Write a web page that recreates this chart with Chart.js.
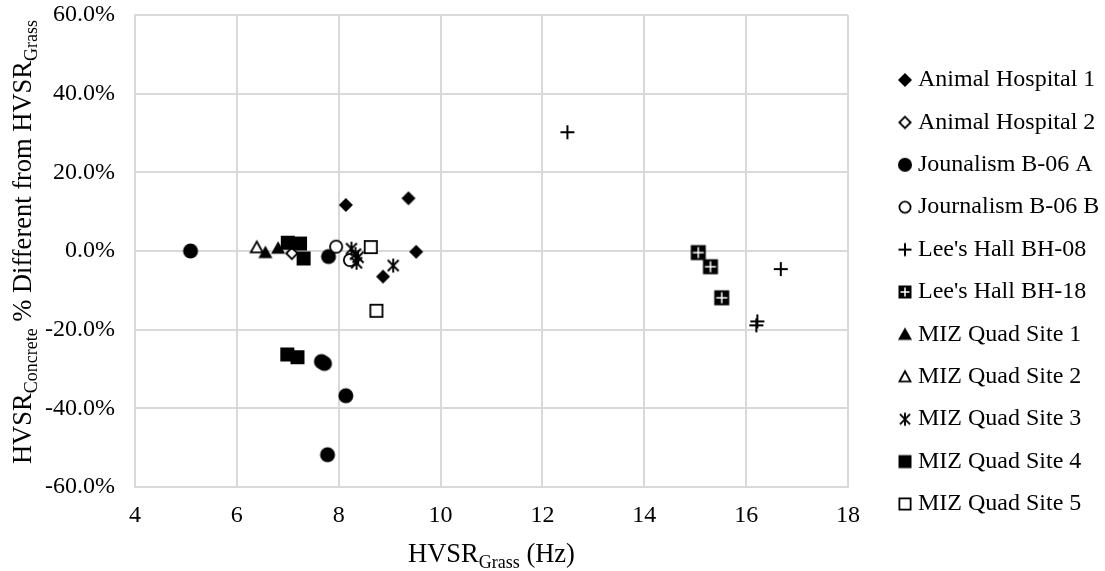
<!DOCTYPE html>
<html>
<head>
<meta charset="utf-8">
<script src="https://cdn.jsdelivr.net/npm/chart.js@4.4.1/dist/chart.umd.min.js"></script>
<style>
  html, body { margin: 0; padding: 0; background: #ffffff; }
  #wrap { width: 1105px; height: 571px; }
</style>
</head>
<body>
<div id="wrap"><canvas id="chart" width="1105" height="571"></canvas></div>
<script>
// ---- data: [HVSR_Grass (Hz), % difference] ----
const seriesNames = [
  'Animal Hospital 1', 'Animal Hospital 2', 'Jounalism B-06 A', 'Journalism B-06 B',
  "Lee's Hall BH-08", "Lee's Hall BH-18", 'MIZ Quad Site 1', 'MIZ Quad Site 2',
  'MIZ Quad Site 3', 'MIZ Quad Site 4', 'MIZ Quad Site 5'
];
const animalHospital1 = [[8.14, 11.7], [9.37, 13.4], [8.87, -6.5], [9.52, -0.2]];
const animalHospital2 = [[7.08, -0.6]];
const journalismA = [[5.09, 0.0], [7.80, -1.4], [7.66, -28.1], [7.72, -28.6], [8.14, -36.8], [7.78, -51.8]];
const journalismB = [[7.95, 1.1], [8.22, -2.3]];
const leesHallBH08 = [[12.49, 30.2], [16.68, -4.6], [16.22, -17.9], [16.20, -18.9]];
const leesHallBH18 = [[15.06, -0.4], [15.30, -4.0], [15.52, -11.9]];
const mizQuad1 = [[6.56, -0.4], [6.81, 0.7]];
const mizQuad2 = [[6.39, 0.9]];
const mizQuad3 = [[8.25, 0.6], [8.33, -0.8], [8.38, -1.6], [8.35, -3.0], [9.07, -3.7]];
const mizQuad4 = [[7.00, 2.1], [7.24, 1.9], [7.31, -1.9], [6.99, -26.3], [7.19, -27.0]];
const mizQuad5 = [[8.63, 1.0], [8.74, -15.2]];

const xTicks = [4, 6, 8, 10, 12, 14, 16, 18];
const yTicks = [-60, -40, -20, 0, 20, 40, 60];

const seriesData = [animalHospital1, animalHospital2, journalismA, journalismB, leesHallBH08,
  leesHallBH18, mizQuad1, mizQuad2, mizQuad3, mizQuad4, mizQuad5];
const markerKinds = ['diamond', 'diamondOpen', 'circle', 'circleOpen', 'plus', 'squarePlus',
  'triangle', 'triangleOpen', 'asterisk', 'square', 'squareOpen'];
const plotSizes = { diamond: 14, diamondOpen: 13, circle: 15, circleOpen: 14, plus: 14, squarePlus: 15,
  triangle: 14, triangleOpen: 14, asterisk: 14, square: 14, squareOpen: 14 };
const legendSizes = { diamond: 14, diamondOpen: 13, circle: 14, circleOpen: 13, plus: 13, squarePlus: 13,
  triangle: 14, triangleOpen: 13, asterisk: 13, square: 13, squareOpen: 13 };

const SERIF = "'Liberation Serif', 'Times New Roman', serif";
const INK = '#000000';
const GRID = '#d9d9d9';

// ---- marker glyphs drawn on small canvases ----
function markerCanvas(kind, s) {
  const pad = 3;
  let n = Math.ceil(s + 2 * pad);
  if (n % 2) n += 1;
  const cv = document.createElement('canvas');
  cv.width = n; cv.height = n;
  const g = cv.getContext('2d');
  const c = n / 2, h = s / 2;
  g.strokeStyle = INK; g.fillStyle = INK; g.lineWidth = 1.8;
  g.lineJoin = 'miter';
  const poly = (pts) => { g.beginPath(); pts.forEach((p, i) => i ? g.lineTo(p[0], p[1]) : g.moveTo(p[0], p[1])); g.closePath(); };
  switch (kind) {
    case 'diamond':
      poly([[c, c - h], [c + h, c], [c, c + h], [c - h, c]]); g.fill(); break;
    case 'diamondOpen':
      poly([[c, c - h + 0.8], [c + h - 0.8, c], [c, c + h - 0.8], [c - h + 0.8, c]]);
      g.fillStyle = '#fff'; g.fill(); g.stroke(); break;
    case 'circle':
      g.beginPath(); g.arc(c, c, h, 0, Math.PI * 2); g.fill(); break;
    case 'circleOpen':
      g.beginPath(); g.arc(c, c, h - 0.9, 0, Math.PI * 2); g.fillStyle = '#fff'; g.fill(); g.stroke(); break;
    case 'plus':
      g.lineWidth = 2; g.beginPath();
      g.moveTo(c - h, c); g.lineTo(c + h, c); g.moveTo(c, c - h); g.lineTo(c, c + h); g.stroke(); break;
    case 'squarePlus':
      g.fillRect(c - h, c - h, s, s);
      g.strokeStyle = '#fff'; g.lineWidth = 1.5; g.beginPath();
      g.moveTo(c - h + 2, c); g.lineTo(c + h - 2, c); g.moveTo(c, c - h + 2); g.lineTo(c, c + h - 2); g.stroke(); break;
    case 'triangle':
      poly([[c, c - h], [c + h, c + h * 0.78], [c - h, c + h * 0.78]]); g.fill(); break;
    case 'triangleOpen':
      poly([[c, c - h + 1], [c + h - 1, c + h * 0.78 - 0.5], [c - h + 1, c + h * 0.78 - 0.5]]);
      g.fillStyle = '#fff'; g.fill(); g.stroke(); break;
    case 'asterisk': {
      const d = h * 0.78;
      g.lineWidth = 1.9; g.beginPath();
      g.moveTo(c - d, c - d); g.lineTo(c + d, c + d);
      g.moveTo(c + d, c - d); g.lineTo(c - d, c + d);
      g.moveTo(c, c - h); g.lineTo(c, c + h); g.stroke(); break;
    }
    case 'square':
      g.fillRect(c - h, c - h, s, s); break;
    case 'squareOpen':
      g.fillStyle = '#fff'; g.fillRect(c - h + 0.9, c - h + 0.9, s - 1.8, s - 1.8);
      g.strokeRect(c - h + 0.9, c - h + 0.9, s - 1.8, s - 1.8); break;
  }
  return cv;
}

const plotIcons = markerKinds.map(k => markerCanvas(k, plotSizes[k]));
const legendIcons = markerKinds.map(k => markerCanvas(k, legendSizes[k]));

const datasets = seriesNames.map((name, i) => ({
  label: name,
  data: seriesData[i].map(p => ({ x: p[0], y: p[1] })),
  pointStyle: plotIcons[i],
  pointRadius: 7,
  pointHoverRadius: 7,
  borderColor: INK,
  backgroundColor: INK,
  showLine: false,
  order: seriesNames.length - i   // later series sit on top
}));

// ---- axis titles with subscripts ----
const TITLE_SIZE = 26.5, SUB_SIZE = 18, SUB_DROP = 6;
function richWidth(g, parts) {
  let w = 0;
  parts.forEach(p => { g.font = (p.sub ? SUB_SIZE : TITLE_SIZE) + 'px ' + SERIF; w += g.measureText(p.t).width; });
  return w;
}
function drawRich(g, parts, x, y) {
  g.textBaseline = 'alphabetic'; g.textAlign = 'left'; g.fillStyle = INK;
  parts.forEach(p => {
    g.font = (p.sub ? SUB_SIZE : TITLE_SIZE) + 'px ' + SERIF;
    g.fillText(p.t, x, y + (p.sub ? SUB_DROP : 0));
    x += g.measureText(p.t).width;
  });
}
const xTitleParts = [{ t: 'HVSR' }, { t: 'Grass', sub: true }, { t: ' (Hz)' }];
const yTitleParts = [{ t: 'HVSR' }, { t: 'Concrete', sub: true }, { t: ' % Different from HVSR' }, { t: 'Grass', sub: true }];

const axisTitles = {
  id: 'axisTitles',
  afterDraw(chart) {
    const g = chart.ctx, a = chart.chartArea;
    g.save();
    const wx = richWidth(g, xTitleParts);
    drawRich(g, xTitleParts, (a.left + a.right) / 2 - wx / 2, 562);
    const wy = richWidth(g, yTitleParts);
    g.translate(31, (a.top + a.bottom) / 2 - 9);
    g.rotate(-Math.PI / 2);
    drawRich(g, yTitleParts, -wy / 2, 0);
    g.restore();
  }
};

// ---- legend box geometry ----
const LEGEND_BOX_WIDTH = 257;
const LEGEND_ITEM_X = 904;
const LEGEND_PAD = 18.4;
const legendSlot = {
  id: 'legendSlot',
  beforeLayout(chart) {
    const lg = chart.legend;
    if (lg && !lg._fixedWidth) {
      const fit = lg.fit;
      lg.fit = function () { fit.call(this); this.width = LEGEND_BOX_WIDTH; };
      lg._fixedWidth = true;
    }
  },
  afterLayout(chart) {
    const lg = chart.legend;
    if (!lg) return;
    lg.left = LEGEND_ITEM_X - LEGEND_PAD;
    lg.right = lg.left + lg.width;
    lg.top -= 1; lg.bottom -= 1;
  }
};

new Chart(document.getElementById('chart'), {
  type: 'scatter',
  data: { datasets },
  options: {
    responsive: false,
    devicePixelRatio: 1,
    animation: false,
    layout: { padding: { top: 15, left: 0, right: 0, bottom: 0 } },
    plugins: {
      tooltip: { enabled: false },
      legend: {
        position: 'right',
        align: 'center',
        labels: {
          usePointStyle: true,
          boxWidth: 2,
          padding: LEGEND_PAD,
          color: INK,
          font: { family: SERIF, size: 24 },
          generateLabels(chart) {
            const items = Chart.defaults.plugins.legend.labels.generateLabels(chart);
            items.sort((p, q) => p.datasetIndex - q.datasetIndex);
            items.forEach(it => { it.pointStyle = legendIcons[it.datasetIndex]; });
            return items;
          }
        }
      }
    },
    scales: {
      x: {
        type: 'linear',
        min: xTicks[0],
        max: xTicks[xTicks.length - 1],
        afterBuildTicks(s) { s.ticks = xTicks.map(v => ({ value: v })); },
        ticks: { color: INK, font: { family: SERIF, size: 24 }, padding: 14, maxRotation: 0 },
        grid: { color: GRID, lineWidth: 2, drawTicks: false },
        border: { color: GRID, width: 2 },
        afterFit(s) { s.height = 84; s.paddingLeft = 0; s.paddingRight = 0; }
      },
      y: {
        type: 'linear',
        min: yTicks[0],
        max: yTicks[yTicks.length - 1],
        afterBuildTicks(s) { s.ticks = yTicks.map(v => ({ value: v })); },
        ticks: { color: INK, font: { family: SERIF, size: 24 }, padding: 20,
          callback: v => v.toFixed(1) + '%' },
        grid: { color: GRID, lineWidth: 2, drawTicks: false },
        border: { color: GRID, width: 2 },
        afterFit(s) { s.width = 135; s.paddingTop = 0; s.paddingBottom = 0; }
      }
    }
  },
  plugins: [legendSlot, axisTitles]
});
</script>
</body>
</html>
